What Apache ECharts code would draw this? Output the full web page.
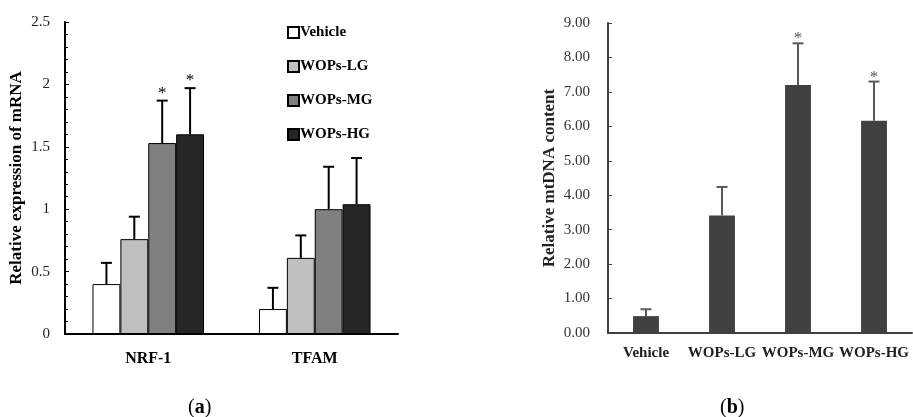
<!DOCTYPE html>
<html>
<head>
<meta charset="utf-8">
<script src="https://cdn.jsdelivr.net/npm/echarts@6/dist/echarts.min.js"></script>
<style>
  html, body { margin: 0; padding: 0; background: #fff; }
  #chart { width: 913px; height: 417px; }
</style>
</head>
<body>
<div id="chart"></div>
<script>
  // panel (a): relative mRNA expression
  var genes = ['NRF-1', 'TFAM'];
  var treatments = ['Vehicle', 'WOPs-LG', 'WOPs-MG', 'WOPs-HG'];
  var mrnaVehicle = [0.40, 0.20];
  var mrnaLG = [0.76, 0.61];
  var mrnaMG = [1.53, 1.00];
  var mrnaHG = [1.60, 1.04];
  var sdVehicle = [0.17, 0.17];
  var sdLG = [0.18, 0.18];
  var sdMG = [0.34, 0.34];
  var sdHG = [0.37, 0.37];
  var starMG = [1, 0];
  var starHG = [1, 0];
  var mrnaTicks = [0, 0.5, 1, 1.5, 2, 2.5];

  // panel (b): relative mtDNA content
  var mtMean = [0.49, 3.41, 7.20, 6.16];
  var mtSd = [0.20, 0.83, 1.21, 1.14];
  var mtStar = [0, 0, 1, 1];

  var fills = ['#ffffff', '#bfbfbf', '#808080', '#262626'];
  var serif = '"Liberation Serif", serif';
  var catGap = 0.33;

  var means = [mrnaVehicle, mrnaLG, mrnaMG, mrnaHG];
  var sds = [sdVehicle, sdLG, sdMG, sdHG];
  var stars = [[0, 0], [0, 0], starMG, starHG];

  // error bar + asterisk points for panel (a): [cat, mean, sd, star, seriesIdx]
  var errA = [];
  means.forEach(function (arr, s) {
    arr.forEach(function (v, c) {
      errA.push([c, v, sds[s][c], stars[s][c], s]);
    });
  });
  var errB = mtMean.map(function (v, i) {
    return [i, v, mtSd[i], mtStar[i], 0];
  });

  function errRender(nBars, color, gap, starDy) {
    return function (params, api) {
      var c = api.value(0), m = api.value(1), sd = api.value(2);
      var star = api.value(3), s = api.value(4);
      var band = api.size([1, 0])[0];
      var bw = band * (1 - gap) / nBars;
      var base = api.coord([c, m]);
      var x = base[0] + (s - (nBars - 1) / 2) * bw;
      var top = api.coord([c, m + sd])[1];
      var cap = 5.5;
      var children = [
        { type: 'line', shape: { x1: x, y1: base[1], x2: x, y2: top },
          style: { stroke: color, lineWidth: 2 } },
        { type: 'line', shape: { x1: x - cap, y1: top, x2: x + cap, y2: top },
          style: { stroke: color, lineWidth: 2 } }
      ];
      if (star) {
        children.push({ type: 'text', x: x, y: top + starDy,
          style: { text: '*', fill: color, font: '17px ' + serif,
            align: 'center', verticalAlign: 'bottom' } });
      }
      return { type: 'group', children: children };
    };
  }

  var barSeries = treatments.map(function (name, s) {
    return {
      name: name,
      type: 'bar',
      xAxisIndex: 0,
      yAxisIndex: 0,
      barGap: '0%',
      barCategoryGap: (catGap * 100) + '%',
      data: means[s],
      itemStyle: { color: fills[s], borderColor: '#000', borderWidth: 1 },
      animation: false
    };
  });

  var chart = echarts.init(document.getElementById('chart'));
  chart.setOption({
    backgroundColor: '#fff',
    animation: false,
    legend: {
      data: treatments,
      orient: 'vertical',
      left: 282,
      top: 20,
      itemWidth: 11,
      itemHeight: 11,
      itemGap: 19,
      icon: 'rect',
      textStyle: { fontFamily: serif, fontWeight: 'bold', fontSize: 15, color: '#000', padding: [0, 0, 0, -4] }
    },
    grid: [
      { left: 65, top: 22, width: 333, height: 312 },
      { left: 608, top: 23, width: 304, height: 310 }
    ],
    xAxis: [{
      type: 'category',
      gridIndex: 0,
      data: genes,
      axisLine: { lineStyle: { color: '#000', width: 2 } },
      axisTick: { show: false },
      axisLabel: { fontFamily: serif, fontWeight: 'bold', fontSize: 16, color: '#000', margin: 17 }
    }, {
      type: 'category',
      gridIndex: 1,
      data: treatments,
      axisLine: { lineStyle: { color: '#404040', width: 2 } },
      axisTick: { show: false },
      axisLabel: { fontFamily: serif, fontWeight: 'bold', fontSize: 15, color: '#222', margin: 13, interval: 0 }
    }],
    yAxis: [{
      type: 'value',
      gridIndex: 0,
      min: mrnaTicks[0],
      max: mrnaTicks[mrnaTicks.length - 1],
      interval: 0.5,
      name: 'Relative expression of mRNA',
      nameLocation: 'middle',
      nameGap: 40,
      nameTextStyle: { fontFamily: serif, fontWeight: 'bold', fontSize: 17, color: '#000' },
      axisLine: { show: true, lineStyle: { color: '#000', width: 2 } },
      axisTick: { show: true, inside: true, length: 4, lineStyle: { color: '#000' } },
      minorTick: { show: true, splitNumber: 5, length: 3, lineStyle: { color: '#000' } },
      splitLine: { show: false },
      axisLabel: { fontFamily: serif, fontSize: 15, color: '#222', margin: 15 }
    }, {
      type: 'value',
      gridIndex: 1,
      min: 0,
      max: 9,
      interval: 1,
      name: 'Relative mtDNA content',
      nameLocation: 'middle',
      nameGap: 50,
      nameTextStyle: { fontFamily: serif, fontWeight: 'bold', fontSize: 17, color: '#222' },
      axisLine: { show: true, lineStyle: { color: '#404040', width: 2 } },
      axisTick: { show: true, inside: true, length: 4, lineStyle: { color: '#404040' } },
      splitLine: { show: false },
      axisLabel: {
        fontFamily: serif, fontSize: 15, color: '#333', margin: 18,
        formatter: function (v) { return v.toFixed(2); }
      }
    }],
    series: barSeries.concat([{
      type: 'custom',
      xAxisIndex: 0,
      yAxisIndex: 0,
      renderItem: errRender(4, '#000', catGap, 1),
      data: errA,
      z: 5
    }, {
      type: 'bar',
      xAxisIndex: 1,
      yAxisIndex: 1,
      barCategoryGap: '66%',
      data: mtMean,
      itemStyle: { color: '#404040' }
    }, {
      type: 'custom',
      xAxisIndex: 1,
      yAxisIndex: 1,
      renderItem: errRender(1, '#595959', 0.66, 4),
      data: errB,
      z: 5
    }]),
    graphic: [{
      type: 'text', left: 188, top: 398,
      style: { text: '({b|a})', font: '20px ' + serif, fill: '#000',
        rich: { b: { fontWeight: 'bold', fontSize: 20, fontFamily: serif } } }
    }, {
      type: 'text', left: 720, top: 398,
      style: { text: '({b|b})', font: '20px ' + serif, fill: '#000',
        rich: { b: { fontWeight: 'bold', fontSize: 20, fontFamily: serif } } }
    }]
  });
</script>
</body>
</html>
